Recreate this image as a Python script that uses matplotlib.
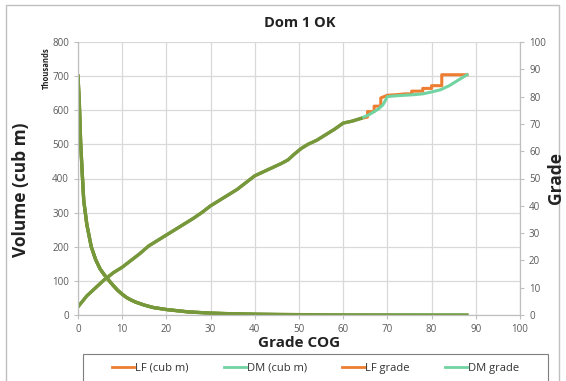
import numpy as np
import matplotlib.pyplot as plt
from matplotlib.patches import Rectangle

plt.rcParams['font.family'] = ['Open Sans', 'DejaVu Sans']

# volume (thousands of cub m) vs grade cut-off
cog_vol_dm = [0, 0.3, 0.6, 1, 1.3, 2, 3, 4, 5, 6, 7, 8, 9, 10, 11, 12, 13, 15, 17,
              20, 25, 30, 35, 40, 45, 50, 60, 70, 80, 88]
vol_dm = [700, 620, 505, 405, 335, 265, 200, 162, 135, 117, 101, 86, 72, 61, 51,
          44, 38, 29, 22, 16, 9, 5.5, 3.5, 2.2, 1.5, 1, 0.5, 0.3, 0.1, 0]
cog_vol_lf = cog_vol_dm[:25] + [53]
vol_lf = vol_dm[:25] + [0.8]

# grade above cut-off
cog_gr_dm = [0, 1, 2, 3, 4, 5, 6, 7, 8, 10, 12, 14, 16, 18, 20, 22, 24, 26, 28, 30,
             32, 34, 36, 38, 40, 42, 44, 46, 47.5, 49, 50.5, 52, 54, 56, 58, 60, 62,
             64, 66, 68, 69, 70, 72, 74, 76, 78, 80, 82, 84, 86, 88]
gr_dm = [3, 5, 7, 8.5, 10, 11.5, 13, 14.2, 15.5, 17.5, 20, 22.5, 25.3, 27.3, 29.3,
         31.3, 33.3, 35.3, 37.5, 40, 42, 44, 46, 48.5, 51, 52.5, 54, 55.5, 56.8,
         59, 61, 62.5, 64, 66, 68, 70.3, 71, 72, 73.5, 75.5, 77, 80, 80.3, 80.5,
         80.7, 81, 81.7, 82.5, 84, 86, 88]
cog_gr_lf = cog_gr_dm[:38] + [65.5, 65.5, 67, 67, 68.5, 68.5, 70, 72, 74, 75.5, 75.5,
                              78, 78, 80, 80, 82.3, 82.3, 88]
gr_lf = gr_dm[:38] + [72.5, 74.5, 74.5, 76.5, 76.5, 79.5, 80.5, 80.7, 81, 81, 82,
                      82, 83, 83, 84, 84, 88, 88]

olive = '#77983A'
orange = '#ED7D31'
green = '#72D3A2'
gray = '#595959'
dark = '#222222'

fig = plt.figure(figsize=(5.66, 3.81), dpi=100)
# outer chart border and legend box
fig.patches.append(Rectangle((6 / 566, -0.1), 553 / 566, 1.1 - 5 / 381,
                             transform=fig.transFigure, fill=False,
                             edgecolor='#BFBFBF', lw=1))
fig.patches.append(Rectangle((83 / 566, -0.1), 465 / 566, 0.1 + 1 - 354 / 381,
                             transform=fig.transFigure, fill=False,
                             edgecolor='#7F7F7F', lw=0.8))

ax = fig.add_axes([78 / 566, 1 - 315 / 381, 442 / 566, 273 / 381])
ax2 = ax.twinx()

ax.plot(cog_vol_lf, vol_lf, color=orange, lw=2.2)
ax.plot(cog_vol_dm, vol_dm, color=green, lw=2.2)
ax.plot(cog_vol_dm, vol_dm, color=olive, lw=2.4)
ax.plot(cog_vol_lf, vol_lf, color=olive, lw=2.4)

ax2.plot(cog_gr_lf, gr_lf, color=orange, lw=2.2)
ax2.plot(cog_gr_dm, gr_dm, color=green, lw=2.2)
n_same = 38  # both series coincide up to here
ax2.plot(cog_gr_dm[:n_same], gr_dm[:n_same], color=olive, lw=2.4)

ax.set_xlim(0, 100)
ax.set_ylim(0, 800)
ax2.set_ylim(0, 100)
ax.set_xticks(np.arange(0, 101, 10))
ax.set_yticks(np.arange(0, 801, 100))
ax2.set_yticks(np.arange(0, 101, 10))
ax.grid(True, color='#D9D9D9', lw=0.9)
ax.set_axisbelow(True)

for a in (ax, ax2):
    a.spines['top'].set_visible(False)
    for s in ('left', 'right', 'bottom'):
        a.spines[s].set_color('#BFBFBF')
    a.tick_params(labelsize=7, colors=gray, length=3, width=0.8)
    a.tick_params(axis='both', color='#BFBFBF')

ax.set_xlabel('Grade COG', fontsize=11, fontweight='bold', color=dark, labelpad=1)
fig.text(21 / 566, 1 - 190 / 381, 'Volume (cub m)', rotation=90, fontsize=12.5,
         fontweight='bold', ha='center', va='center', color=dark)
fig.text(556 / 566, 1 - 178 / 381, 'Grade', rotation=90, fontsize=12.5,
         fontweight='bold', ha='center', va='center', color=dark)
fig.text(46 / 566, 1 - 68 / 381, 'Thousands', rotation=90, fontsize=5.5,
         fontweight='bold', ha='center', va='center', color=dark)
fig.text(300 / 566, 1 - 23 / 381, 'Dom 1 OK', fontsize=10.5, fontweight='bold',
         ha='center', va='center', color=dark)

handles = [plt.Line2D([], [], color=orange, lw=2),
           plt.Line2D([], [], color=green, lw=2),
           plt.Line2D([], [], color=orange, lw=2),
           plt.Line2D([], [], color=green, lw=2)]
labels = ['LF (cub m)', 'DM (cub m)', 'LF grade', 'DM grade']
fig.legend(handles, labels, loc='center', ncol=4,
           bbox_to_anchor=(315.5 / 566, 1 - 368 / 381),
           fontsize=8, frameon=False, handlelength=2.0, handletextpad=0.05,
           columnspacing=3.2, labelcolor='#333333', borderaxespad=0)

fig.savefig('out.png', dpi=100)
